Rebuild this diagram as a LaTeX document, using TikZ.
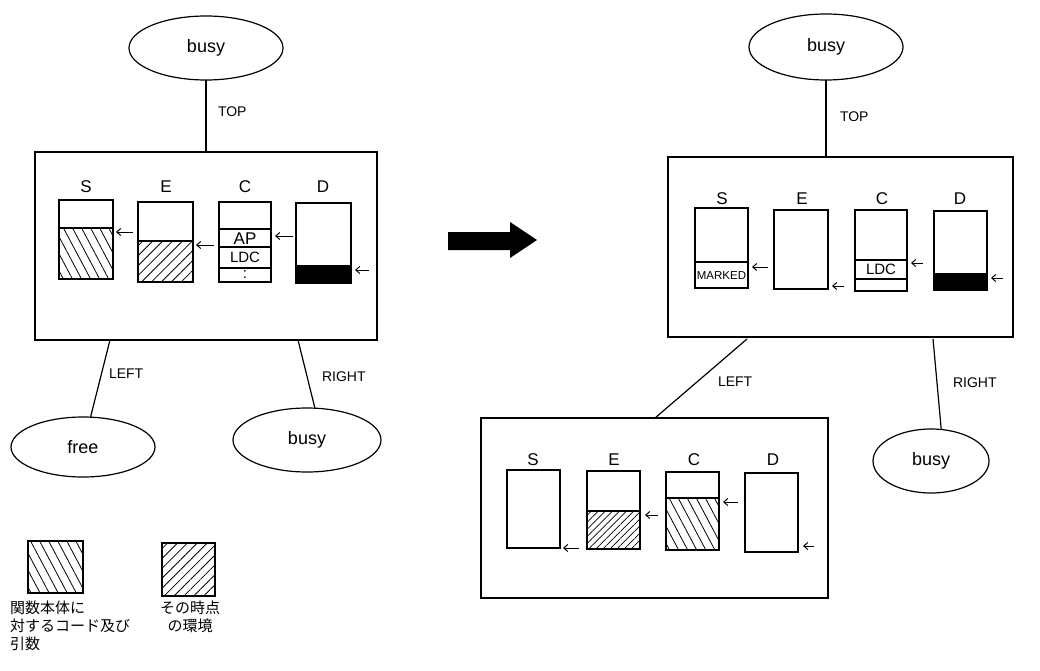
\documentclass[tikz,border=0pt]{standalone}
\usepackage{fontspec}
\setmainfont{Liberation Sans}
\newfontfamily\jp{Noto Sans CJK JP}
\usetikzlibrary{shapes.geometric,patterns.meta,arrows.meta}
\begin{document}
\begin{tikzpicture}[x=1pt,y=-1pt,
 every node/.style={inner sep=0pt, outer sep=0pt},
 ln/.style={line width=1.2pt},
 stk/.style={draw, line width=1.3pt, rectangle, anchor=north west},
 oval/.style={draw, ellipse, line width=1.2pt, font=\fontsize{18}{20}\selectfont},
 frame/.style={draw, line width=1.3pt, rectangle, anchor=north west},
 ttl/.style={font=\fontsize{17}{19}\selectfont},
 cell/.style={font=\fontsize{15}{17}\selectfont},
 edgelbl/.style={font=\fontsize{14}{16}\selectfont, anchor=west},
 ptr/.style={-{Straight Barb[length=4pt,width=7pt]}, line width=1pt},
 hatchA/.style={pattern={Lines[angle=-62,distance=8pt,line width=0.8pt]}},
 hatchB/.style={pattern={Lines[angle=45,distance=7pt,line width=0.8pt]}},
 hatchC/.style={pattern={Lines[angle=45,distance=5pt,line width=0.7pt]}},
 jptext/.style={font=\jp\fontsize{15}{18}\selectfont}
]
\useasboundingbox (0,0) rectangle (1040,671);
\fill[white] (0,0) rectangle (1040,671);

% ================= LEFT (before) =================
\node[oval, minimum width=154pt, minimum height=64pt] (tbusyL) at (206,48) {busy};
\node[frame, minimum width=342pt, minimum height=188pt] (lbox) at (35,152) {};
\draw[ln] (tbusyL) -- (lbox);
\node[edgelbl] (topL) at (218,112) {TOP};

% S
\fill[hatchA] (59,228) rectangle (113,279);
\node[stk, minimum width=54pt, minimum height=79pt] (lS) at (59,200) {};
\draw[ln] (59,228) -- (113,228);
\node[ttl] (lSl) at (86,187) {S};
\draw[ptr] (133,232) -- (116,232);
% E
\fill[hatchB] (138,241) rectangle (193,282);
\node[stk, minimum width=55pt, minimum height=80pt] (lE) at (138,202) {};
\draw[ln] (138,241) -- (193,241);
\node[ttl] (lEl) at (166,187) {E};
\draw[ptr] (214,245) -- (196,245);
% C
\node[stk, minimum width=52pt, minimum height=80pt] (lC) at (219,202) {};
\draw[ln] (219,229) -- (271,229);
\draw[ln] (219,247) -- (271,247);
\draw[ln] (219,268) -- (271,268);
\node[font=\fontsize{17}{19}\selectfont] (lAP) at (245,238.5) {AP};
\node[cell] (lLDC) at (245,257.5) {LDC};
\node[cell] (ldots) at (245,275) {:};
\node[ttl] (lCl) at (245,187) {C};
\draw[ptr] (293,236) -- (275,236);
% D
\fill[black] (296,265) rectangle (351,283);
\node[stk, minimum width=55pt, minimum height=80pt] (lD) at (296,203) {};
\node[ttl] (lDl) at (323,187) {D};
\draw[ptr] (369,270) -- (355,270);

% children
\node[oval, minimum width=144pt, minimum height=60pt] (freeL) at (83,447) {free};
\node[oval, minimum width=148pt, minimum height=64pt] (rbusyL) at (307,440) {busy};
\coordinate (lLft) at (110,340);
\coordinate (lRgt) at (298,340);
\draw[ln] (lLft) -- (freeL);
\draw[ln] (lRgt) -- (rbusyL.76);
\node[edgelbl] (leftL) at (109,374) {LEFT};
\node[edgelbl] (rightL) at (322,377) {RIGHT};

% legend
\fill[hatchA] (28,541) rectangle (83,593);
\node[stk, minimum width=55pt, minimum height=52pt] (legA) at (28,541) {};
\fill[hatchB] (162,543) rectangle (215,596);
\node[stk, minimum width=53pt, minimum height=53pt] (legB) at (162,543) {};
\node[jptext, align=left, anchor=north west] (legAt) at (10,601) {関数本体に\\対するコード及び\\引数};
\node[jptext, align=center, anchor=north] (legBt) at (190,601) {その時点\\の環境};

% big arrow
\fill[black] (448,232) -- (510,232) -- (510,222) -- (537,240) -- (510,258) -- (510,250) -- (448,250) -- cycle;

% ================= RIGHT (after) =================
\node[oval, minimum width=154pt, minimum height=66pt] (tbusyR) at (826,47) {busy};
\node[frame, minimum width=345pt, minimum height=180pt] (rbox) at (668,157) {};
\draw[ln] (tbusyR.south) -- (tbusyR.south |- rbox.north);
\node[edgelbl] (topR) at (840,117) {TOP};

% S
\node[stk, minimum width=53pt, minimum height=80pt] (rS) at (695,208) {};
\draw[ln] (695,262) -- (748,262);
\node[font=\fontsize{11.5}{13}\selectfont] (rMk) at (721.5,275.5) {MARKED};
\node[ttl] (rSl) at (722,199) {S};
\draw[ptr] (768,267) -- (752,267);
% E
\node[stk, minimum width=54pt, minimum height=79pt] (rE) at (774,210) {};
\node[ttl] (rEl) at (802,199) {E};
\draw[ptr] (844,286) -- (832,286);
% C
\node[stk, minimum width=52pt, minimum height=81pt] (rC) at (855,210) {};
\draw[ln] (855,260) -- (907,260);
\draw[ln] (855,279) -- (907,279);
\node[cell] (rLDC) at (881,269.5) {LDC};
\node[ttl] (rCl) at (882,199) {C};
\draw[ptr] (923,263) -- (911,263);
% D
\fill[black] (934,273) rectangle (987,290);
\node[stk, minimum width=53pt, minimum height=79pt] (rD) at (934,211) {};
\node[ttl] (rDl) at (960,199) {D};
\draw[ptr] (1003,278) -- (991,278);

% right child
\node[oval, minimum width=116pt, minimum height=64pt] (rbusyR) at (931,461) {busy};
\coordinate (rRgt) at (933,339);
\draw[ln] (rRgt) -- (rbusyR.72);
\node[edgelbl] (rightR) at (953,383) {RIGHT};

% left child (new frame)
\node[frame, minimum width=347pt, minimum height=180pt] (nbox) at (481,418) {};
\coordinate (rLft) at (747,339);
\coordinate (nTop) at (655,418);
\draw[ln] (rLft) -- (nTop);
\node[edgelbl] (leftR) at (718,382) {LEFT};

% S
\node[stk, minimum width=53pt, minimum height=78pt] (nS) at (507,470) {};
\node[ttl] (nSl) at (533,460) {S};
\draw[ptr] (579,548) -- (563,548);
% E
\fill[hatchC] (587,511) rectangle (640,549);
\node[stk, minimum width=53pt, minimum height=78pt] (nE) at (587,471) {};
\draw[ln] (587,511) -- (640,511);
\node[ttl] (nEl) at (614,460) {E};
\draw[ptr] (658,515) -- (645,515);
% C
\fill[hatchA] (666,498) rectangle (719,550);
\node[stk, minimum width=53pt, minimum height=78pt] (nC) at (666,472) {};
\draw[ln] (666,498) -- (719,498);
\node[ttl] (nCl) at (694,460) {C};
\draw[ptr] (738,502) -- (723,502);
% D
\node[stk, minimum width=53pt, minimum height=79pt] (nD) at (745,473) {};
\node[ttl] (nDl) at (773,460) {D};
\draw[ptr] (814,546) -- (803,546);
\end{tikzpicture}
\end{document}
